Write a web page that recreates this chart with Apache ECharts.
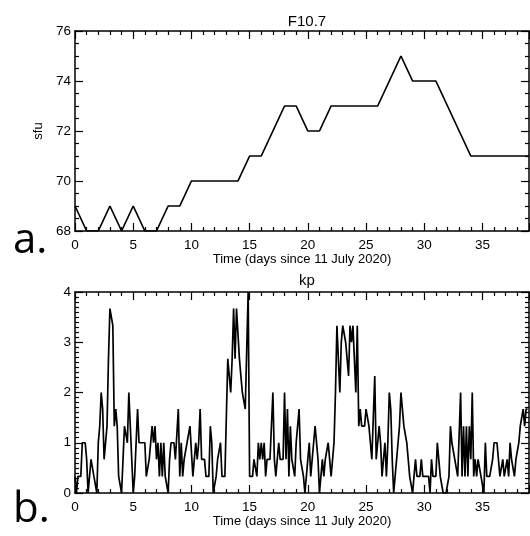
<!DOCTYPE html>
<html><head><meta charset="utf-8">
<script src="https://cdn.jsdelivr.net/npm/echarts@6/dist/echarts.min.js"></script>
<style>html,body{margin:0;padding:0;background:#fff}#c{width:530px;height:536px}</style>
</head><body><div id="c"></div>
<script>
// F10.7 daily values, day 0..39
const f107Days = [0,1,2,3,4,5,6,7,8,9,10,11,12,13,14,15,16,17,18,19,20,21,22,23,24,25,26,27,28,29,30,31,32,33,34,35,36,37,38,39];
const f107 = [69,68,68,69,68,69,68,68,69,69,70,70,70,70,70,71,71,72,73,73,72,72,73,73,73,73,73,74,75,74,74,74,73,72,71,71,71,71,71,71];
// kp, 3-hourly (8 values per day), days 0..38
const kpDaily = [
 [0.33,0,0.33,0.33,0.33,1,1,1],
 [0.67,0,0.33,0.67,0.67,0.33,0.33,0],
 [1,1.33,2,1.67,0.67,1,1.33,2.67],
 [3.67,3.67,3.33,1.33,1.67,1.33,0.33,0.33],
 [0,0.67,1.33,1.33,1,2,2,0.67],
 [0,0.33,0.33,1.67,1,1,1,1],
 [1,0.33,0.33,0.67,1,1.33,1,1.33],
 [0.67,1,0.33,1,0.33,1,0.33,0.33],
 [0,0.67,1,1,1,0.67,0.67,1.67],
 [0.33,1,0.33,0.67,0.67,1,1,1.33],
 [1.33,0.33,0.67,1,0.67,1,1.67,0.67],
 [0.67,0.67,0.33,0.33,0.33,1.33,1,0],
 [0,0.33,0.67,0.67,1,0.33,0.33,0.33],
 [0.33,2.67,2.67,2,2.67,3.67,2.67,3.67],
 [3.67,2.67,2.33,2,2,1.67,1.67,4],
 [0.33,0.33,0.33,0.67,0.67,0.33,1,0.67],
 [1,0.67,1,0.33,0.67,0.67,0.67,0.67],
 [2,0.67,0.33,0.33,1,0.67,0.67,0.67],
 [2,0.67,1.67,0.33,1.33,0.67,0.67,0.33],
 [1,1,1.67,0.67,0.67,0.33,0,0.33],
 [0.67,1,0.33,0.67,1,1.33,1,0.67],
 [0,0.33,0.67,0.33,0.67,0.67,1,1],
 [0.33,0.33,1,2,3.33,3.33,2,3],
 [3.33,3.33,3,2.67,2.33,3.33,3,3.33],
 [3.33,2,3.33,1.33,1.67,1.33,1.33,1.33],
 [1.67,1.67,1.33,1,0.67,0.67,2.33,0.67],
 [0.67,1.33,1,0.33,0.67,1,0.33,1],
 [2,1.67,0.67,0,0.33,0.33,1,1.33],
 [2,1.67,1.33,1.33,1,0.67,0.33,0.33],
 [0,0.33,0.67,0.33,0.33,0.33,0.67,0.33],
 [0.33,0.33,0.33,0.33,0,0.67,0.33,0.33],
 [0.33,1,0.67,0.33,0.33,0,0,0],
 [0,0.33,1.33,1,1,0.67,0.67,0.33],
 [0.33,2,0.33,1.33,0.33,1.33,0.33,1.33],
 [0.67,2,0.33,0.67,0.33,0.67,0.67,0.33],
 [0.33,0,1,0.33,0.33,0.33,0.33,0.67],
 [1,1,1,1,0.33,0.33,0.67,0.33],
 [0.33,0.67,0.33,1,0.67,0.67,0.33,0.67],
 [0.67,1,1.33,1.33,1.67,1.33,1.67,1.67]
];
const xTickLabels = ['0','5','10','15','20','25','30','35'];
const xTitle = 'Time (days since 11 July 2020)';

const f107Data = f107Days.map((d,i)=>[d,f107[i]]);
const kpData = [];
kpDaily.forEach((vals,d)=>vals.forEach((v,j)=>kpData.push([d+j/8,v])));

const FONT = 'Liberation Sans';
const black = '#000';
function xAx(gi, pos, labels){
  return {type:'value', gridIndex:gi, position:pos, min:0, max:39, interval:5,
    axisLine:{show:true,onZero:false,lineStyle:{color:black,width:1.5}},
    axisTick:{show:true,inside:true,length:8,lineStyle:{color:black,width:1.2}},
    minorTick:{show:true,splitNumber:5,length:4,lineStyle:{color:black,width:1.2}},
    splitLine:{show:false}, minorSplitLine:{show:false},
    axisLabel:{show:labels,color:black,fontFamily:FONT,fontSize:13.5,margin:7,showMaxLabel:false,
      formatter:v=>xTickLabels.includes(String(v))?String(v):''},
    name: labels?xTitle:'', nameLocation:'middle', nameGap:22,
    nameTextStyle:{color:black,fontFamily:FONT,fontSize:13}};
}
function yAx(gi,pos,labels,min,max,intv,minor,name){
  return {type:'value', gridIndex:gi, position:pos, min:min, max:max, interval:intv,
    axisLine:{show:true,onZero:false,lineStyle:{color:black,width:1.5}},
    axisTick:{show:true,inside:true,length:8,lineStyle:{color:black,width:1.2}},
    minorTick:{show:true,splitNumber:minor,length:4,lineStyle:{color:black,width:1.2}},
    splitLine:{show:false},
    axisLabel:{show:labels,color:black,fontFamily:FONT,fontSize:13.5,margin:4},
    name:name||'', nameLocation:'middle', nameGap:29, nameRotate:90,
    nameTextStyle:{color:black,fontFamily:FONT,fontSize:13}};
}
const chart = echarts.init(document.getElementById('c'),null,{renderer:'canvas'});
chart.setOption({
  backgroundColor:'#fff',
  animation:false,
  title:[
    {text:'F10.7',left:302,top:9,textAlign:'center',textStyle:{fontFamily:FONT,fontSize:15,fontWeight:'normal',color:black}},
    {text:'kp',left:302,top:268,textAlign:'center',textStyle:{fontFamily:FONT,fontSize:15,fontWeight:'normal',color:black}}
  ],
  grid:[
    {left:75,top:31,width:454,height:200},
    {left:75,top:292,width:454,height:201}
  ],
  xAxis:[xAx(0,'bottom',true), xAx(0,'top',false), xAx(1,'bottom',true), xAx(1,'top',false)],
  yAxis:[yAx(0,'left',true,68,76,2,4,'sfu'), yAx(0,'right',false,68,76,2,4),
         yAx(1,'left',true,0,4,1,10), yAx(1,'right',false,0,4,1,10)],
  series:[
    {type:'line',xAxisIndex:0,yAxisIndex:0,data:f107Data,showSymbol:false,lineStyle:{color:black,width:1.7}},
    {type:'line',xAxisIndex:2,yAxisIndex:2,data:kpData,showSymbol:false,lineStyle:{color:black,width:1.7}}
  ],
  graphic:[
    {type:'text',left:13,top:220,style:{text:'a.',fontFamily:'Open Sans',fontSize:42,fill:black}},
    {type:'text',left:13,top:489,style:{text:'b.',fontFamily:'Open Sans',fontSize:42,fill:black}}
  ]
});
</script></body></html>
